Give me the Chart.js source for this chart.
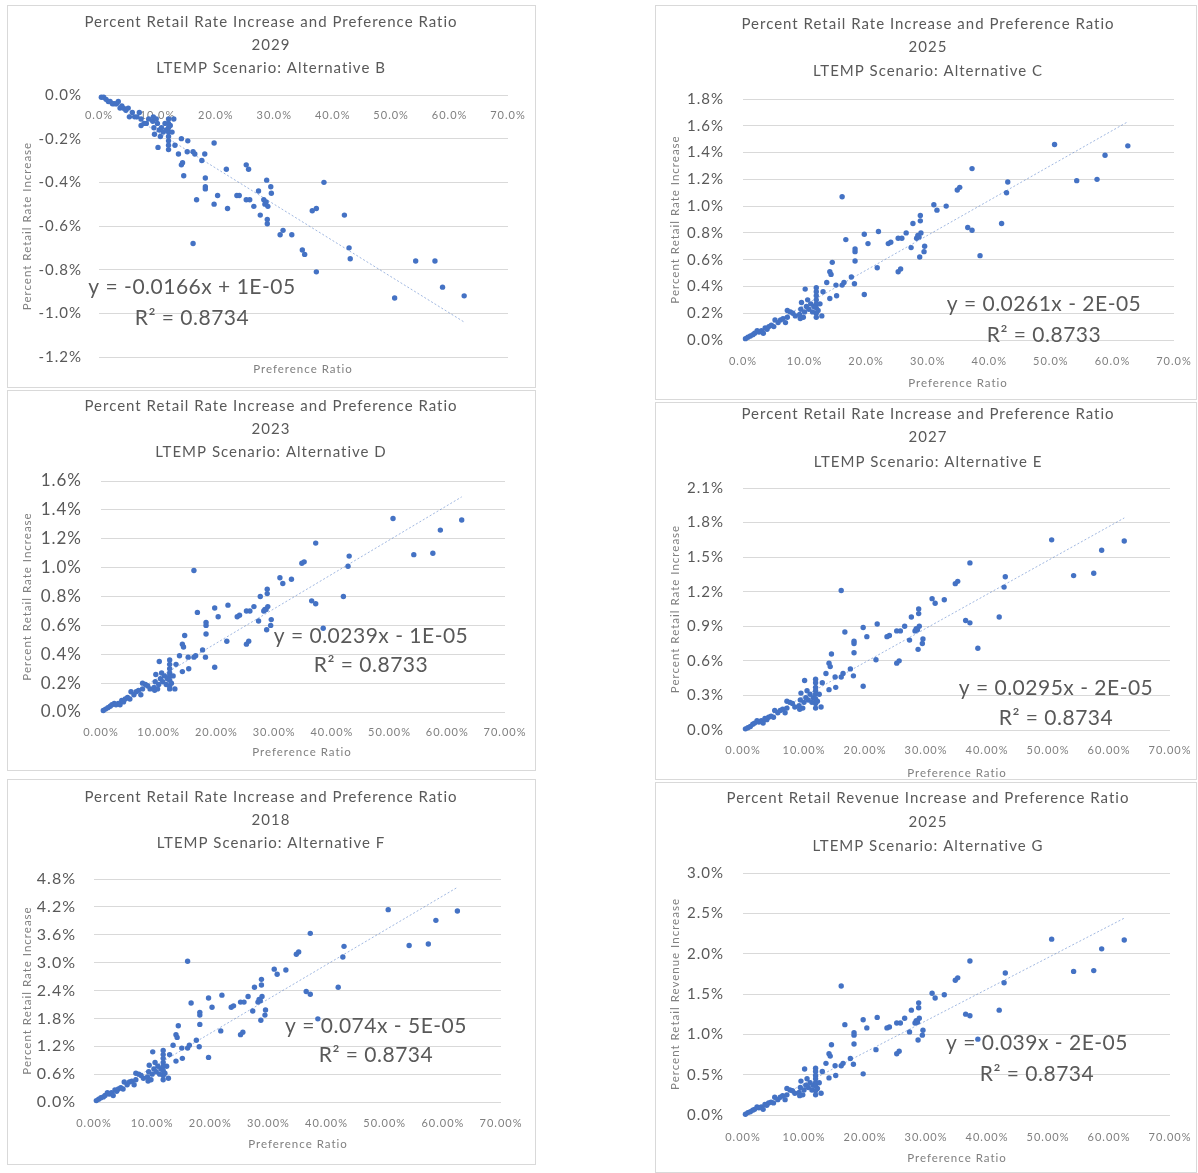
<!DOCTYPE html>
<html>
<head>
<meta charset="utf-8">
<script src="https://cdn.jsdelivr.net/npm/chart.js@4"></script>
<style>
  body { margin: 0; background: #fff; width: 1198px; height: 1173px; position: relative; overflow: hidden; }
  .panel { position: absolute; border: 1px solid #d9d9d9; box-sizing: border-box; }
  canvas { position: absolute; }
</style>
</head>
<body>
<div id="page"></div>
<script>
// Preference ratio (%) - same utilities in every scenario
const prefRatio = [
  0.4, 0.8, 1.2, 1.6, 1.9, 2.3, 2.6, 3.0, 3.3, 3.6,
  3.9, 4.2, 4.6, 5.0, 5.2, 5.7, 6.1, 6.5, 6.9, 7.2,
  7.2, 7.7, 8.1, 8.5, 9.2, 9.3, 9.4, 9.5, 9.8, 10.0,
  10.1, 10.3, 10.5, 10.7, 11.0, 11.3, 11.5, 11.9, 11.9, 11.9,
  11.9, 11.9, 11.9, 11.9, 11.9, 12.2, 12.5, 12.8, 13.0, 13.6,
  14.1, 14.3, 14.1, 14.5, 15.1, 15.2, 16.1, 16.1, 16.4, 16.7,
  17.6, 18.1, 18.2, 18.2, 18.2, 19.7, 19.7, 20.3, 21.8, 22.0,
  23.6, 24.0, 25.2, 25.8, 25.2, 25.6, 26.5, 27.3, 27.6, 28.2,
  28.4, 28.6, 28.8, 28.8, 28.9, 28.7, 29.4, 29.5, 31.0, 31.5,
  33.0, 34.8, 35.2, 36.5, 37.2, 37.2, 38.5, 42.0, 42.8, 43.0,
  50.6, 54.2, 57.5, 58.8, 62.5
];

// Percent retail rate increase (%), Alternative B, 2029
const rateAltB = [
  -0.01, -0.01, -0.02, -0.03, -0.03, -0.04, -0.04, -0.04, -0.03, -0.06,
  -0.05, -0.06, -0.07, -0.06, -0.10, -0.08, -0.10, -0.10, -0.08, -0.11,
  -0.14, -0.13, -0.13, -0.11, -0.12, -0.10, -0.15, -0.18, -0.11, -0.13,
  -0.24, -0.16, -0.19, -0.15, -0.17, -0.13, -0.16, -0.25, -0.23, -0.21,
  -0.19, -0.17, -0.15, -0.13, -0.11, -0.14, -0.17, -0.11, -0.23, -0.27,
  -0.32, -0.31, -0.20, -0.37, -0.26, -0.21, -0.26, -0.68, -0.27, -0.48,
  -0.30, -0.27, -0.38, -0.42, -0.43, -0.22, -0.50, -0.46, -0.34, -0.52,
  -0.46, -0.46, -0.48, -0.48, -0.32, -0.34, -0.51, -0.44, -0.55, -0.48,
  -0.50, -0.49, -0.59, -0.57, -0.51, -0.39, -0.42, -0.45, -0.64, -0.62,
  -0.64, -0.71, -0.73, -0.53, -0.52, -0.81, -0.40, -0.55, -0.70, -0.75,
  -0.93, -0.76, -0.76, -0.88, -0.92
];

// Alternative C, 2025
const rateAltC = [
  0.01, 0.02, 0.03, 0.04, 0.05, 0.07, 0.06, 0.07, 0.05, 0.09,
  0.08, 0.10, 0.11, 0.10, 0.15, 0.13, 0.15, 0.16, 0.13, 0.17,
  0.22, 0.21, 0.20, 0.18, 0.19, 0.16, 0.23, 0.28, 0.17, 0.21,
  0.38, 0.25, 0.30, 0.23, 0.27, 0.21, 0.25, 0.39, 0.36, 0.33,
  0.30, 0.27, 0.24, 0.20, 0.17, 0.22, 0.27, 0.18, 0.36, 0.43,
  0.51, 0.49, 0.31, 0.58, 0.41, 0.33, 0.41, 1.07, 0.43, 0.75,
  0.47, 0.42, 0.59, 0.66, 0.68, 0.34, 0.79, 0.72, 0.54, 0.81,
  0.72, 0.73, 0.76, 0.76, 0.51, 0.53, 0.80, 0.69, 0.87, 0.76,
  0.78, 0.77, 0.93, 0.89, 0.80, 0.62, 0.66, 0.70, 1.01, 0.97,
  1.00, 1.12, 1.14, 0.84, 0.82, 1.28, 0.63, 0.87, 1.10, 1.18,
  1.46, 1.19, 1.20, 1.38, 1.45
];

// Alternative D, 2023
const rateAltD = [
  0.01, 0.02, 0.03, 0.04, 0.05, 0.06, 0.05, 0.06, 0.05, 0.08,
  0.07, 0.09, 0.10, 0.09, 0.14, 0.12, 0.14, 0.15, 0.12, 0.16,
  0.20, 0.19, 0.18, 0.16, 0.17, 0.15, 0.21, 0.26, 0.16, 0.19,
  0.35, 0.23, 0.27, 0.21, 0.25, 0.19, 0.23, 0.36, 0.33, 0.30,
  0.27, 0.25, 0.22, 0.18, 0.16, 0.20, 0.25, 0.16, 0.33, 0.39,
  0.47, 0.45, 0.28, 0.53, 0.38, 0.30, 0.38, 0.98, 0.39, 0.69,
  0.43, 0.38, 0.54, 0.60, 0.62, 0.31, 0.72, 0.66, 0.49, 0.74,
  0.66, 0.67, 0.70, 0.70, 0.47, 0.49, 0.73, 0.63, 0.80, 0.70,
  0.71, 0.71, 0.85, 0.82, 0.73, 0.57, 0.60, 0.64, 0.93, 0.89,
  0.92, 1.03, 1.04, 0.77, 0.75, 1.17, 0.58, 0.80, 1.01, 1.08,
  1.34, 1.09, 1.10, 1.26, 1.33
];

// Alternative E, 2027
const rateAltE = [
  0.01, 0.02, 0.03, 0.05, 0.06, 0.08, 0.07, 0.08, 0.06, 0.10,
  0.09, 0.11, 0.12, 0.11, 0.17, 0.15, 0.17, 0.18, 0.15, 0.19,
  0.25, 0.24, 0.23, 0.20, 0.21, 0.18, 0.26, 0.32, 0.19, 0.24,
  0.43, 0.28, 0.34, 0.26, 0.31, 0.24, 0.28, 0.44, 0.41, 0.37,
  0.34, 0.31, 0.27, 0.23, 0.19, 0.25, 0.31, 0.20, 0.41, 0.49,
  0.58, 0.55, 0.35, 0.66, 0.46, 0.37, 0.46, 1.21, 0.49, 0.85,
  0.53, 0.47, 0.67, 0.75, 0.77, 0.38, 0.89, 0.81, 0.61, 0.92,
  0.81, 0.82, 0.86, 0.86, 0.58, 0.60, 0.90, 0.78, 0.98, 0.86,
  0.88, 0.87, 1.05, 1.01, 0.90, 0.70, 0.75, 0.79, 1.14, 1.10,
  1.13, 1.27, 1.29, 0.95, 0.93, 1.45, 0.71, 0.98, 1.24, 1.33,
  1.65, 1.34, 1.36, 1.56, 1.64
];

// Alternative F, 2018
const rateAltF = [
  0.03, 0.06, 0.09, 0.11, 0.14, 0.20, 0.17, 0.20, 0.14, 0.26,
  0.23, 0.28, 0.31, 0.28, 0.43, 0.37, 0.43, 0.45, 0.37, 0.48,
  0.62, 0.60, 0.57, 0.51, 0.54, 0.45, 0.65, 0.79, 0.48, 0.60,
  1.08, 0.71, 0.85, 0.65, 0.77, 0.60, 0.71, 1.11, 1.02, 0.94,
  0.85, 0.77, 0.68, 0.57, 0.48, 0.62, 0.77, 0.51, 1.02, 1.22,
  1.45, 1.39, 0.88, 1.64, 1.16, 0.94, 1.16, 3.03, 1.22, 2.13,
  1.33, 1.19, 1.67, 1.87, 1.93, 0.96, 2.24, 2.04, 1.53, 2.30,
  2.04, 2.07, 2.15, 2.15, 1.45, 1.50, 2.27, 1.96, 2.47, 2.15,
  2.21, 2.18, 2.64, 2.52, 2.27, 1.76, 1.87, 1.98, 2.86, 2.75,
  2.84, 3.18, 3.23, 2.38, 2.32, 3.63, 1.79, 2.47, 3.12, 3.35,
  4.14, 3.37, 3.40, 3.91, 4.11
];

// Percent retail revenue increase (%), Alternative G, 2025
const revenueAltG = [
  0.01, 0.03, 0.04, 0.06, 0.07, 0.10, 0.09, 0.10, 0.07, 0.13,
  0.12, 0.15, 0.16, 0.15, 0.22, 0.19, 0.22, 0.24, 0.19, 0.25,
  0.33, 0.31, 0.30, 0.27, 0.28, 0.24, 0.34, 0.42, 0.25, 0.31,
  0.57, 0.37, 0.45, 0.34, 0.40, 0.31, 0.37, 0.58, 0.54, 0.49,
  0.45, 0.40, 0.36, 0.30, 0.25, 0.33, 0.40, 0.27, 0.54, 0.64,
  0.76, 0.73, 0.46, 0.87, 0.61, 0.49, 0.61, 1.60, 0.64, 1.12,
  0.70, 0.63, 0.88, 0.99, 1.02, 0.51, 1.18, 1.08, 0.81, 1.21,
  1.08, 1.09, 1.14, 1.14, 0.76, 0.79, 1.20, 1.03, 1.30, 1.14,
  1.17, 1.15, 1.39, 1.33, 1.20, 0.93, 0.99, 1.05, 1.51, 1.45,
  1.49, 1.67, 1.70, 1.25, 1.23, 1.91, 0.94, 1.30, 1.64, 1.76,
  2.18, 1.78, 1.79, 2.06, 2.17
];

// linear trendline end points
const trendX = [0.4, 62.5];
const trendAltB = [-0.01, -1.04];
const trendAltC = [0.01, 1.63];
const trendAltD = [0.01, 1.49];
const trendAltE = [0.01, 1.84];
const trendAltF = [0.03, 4.62];
const trendAltG = [0.01, 2.44];

const FONT = 'Lato, "Open Sans", sans-serif';
const TITLE1 = 'Percent Retail Rate Increase and Preference Ratio';
const RATE_T = 'Percent Retail Rate Increase';

const panels = [
  { box: [7, 5, 529, 383], area: [92, 90, 501, 352], values: rateAltB, trend: trendAltB,
    title: [TITLE1, '2029', 'LTEMP Scenario: Alternative B'], titleX: 264, titleY: [17, 40, 63],
    yTitle: RATE_T, yMin: -1.2, yMax: 0, yStep: 0.2, xDec: 1, yFont: 15, yPad: 17, xPad: 6,
    xTitle: [296, 364], eq: ['y = -0.0166x + 1E-05', 'R\u00b2 = 0.8734'], eqPos: [185, 282, 313], xAtZero: true },
  { box: [655, 5, 542, 395], area: [88, 94, 519, 335], values: rateAltC, trend: trendAltC,
    title: [TITLE1, '2025', 'LTEMP Scenario: Alternative C'], titleX: 273, titleY: [19, 42, 66],
    yTitle: RATE_T, yMin: 0, yMax: 1.8, yStep: 0.2, xDec: 1, yFont: 15, yPad: 19, xPad: 7,
    xTitle: [303, 378], eq: ['y = 0.0261x - 2E-05', 'R\u00b2 = 0.8733'], eqPos: [389, 299, 330] },
  { box: [7, 390, 529, 381], area: [94, 91, 498, 322], values: rateAltD, trend: trendAltD,
    title: [TITLE1, '2023', 'LTEMP Scenario: Alternative D'], titleX: 264, titleY: [16, 39, 62],
    yTitle: RATE_T, yMin: 0, yMax: 1.6, yStep: 0.2, xDec: 2, yFont: 17, yPad: 19, xPad: 6,
    xTitle: [295, 362], eq: ['y = 0.0239x - 1E-05', 'R\u00b2 = 0.8733'], eqPos: [364, 246, 275] },
  { box: [655, 402, 542, 378], area: [88, 86, 515, 328], values: rateAltE, trend: trendAltE,
    title: [TITLE1, '2027', 'LTEMP Scenario: Alternative E'], titleX: 273, titleY: [12, 35, 60],
    yTitle: RATE_T, yMin: 0, yMax: 2.1, yStep: 0.3, xDec: 2, yFont: 15, yPad: 19, xPad: 6,
    xTitle: [302, 371], eq: ['y = 0.0295x - 2E-05', 'R\u00b2 = 0.8734'], eqPos: [401, 286, 316] },
  { box: [7, 779, 529, 386], area: [87, 100, 494, 323], values: rateAltF, trend: trendAltF,
    title: [TITLE1, '2018', 'LTEMP Scenario: Alternative F'], titleX: 264, titleY: [18, 41, 64],
    yTitle: RATE_T, yMin: 0, yMax: 4.8, yStep: 0.6, xDec: 2, yFont: 16, yPad: 18, xPad: 7,
    xTitle: [291, 365], eq: ['y = 0.074x - 5E-05', 'R\u00b2 = 0.8734'], eqPos: [369, 247, 276] },
  { box: [655, 782, 542, 391], area: [88, 91, 515, 333], values: revenueAltG, trend: trendAltG,
    title: ['Percent Retail Revenue Increase and Preference Ratio', '2025', 'LTEMP Scenario: Alternative G'], titleX: 273, titleY: [16, 40, 64],
    yTitle: 'Percent Retail Revenue Increase', yMin: 0, yMax: 3.0, yStep: 0.5, xDec: 2, yFont: 15, yPad: 19, xPad: 8,
    xTitle: [302, 376], eq: ['y = 0.039x - 2E-05', 'R\u00b2 = 0.8734'], eqPos: [382, 261, 292] }
];

// titles, x axis title and trendline equation
const panelText = {
  id: 'panelText',
  beforeDraw(chart) { chart.ctx.letterSpacing = '1px'; },
  afterDraw(chart, args, o) {
    const ctx = chart.ctx;
    ctx.save();
    ctx.textAlign = 'center';
    ctx.textBaseline = 'middle';
    ctx.fillStyle = '#595959';
    ctx.letterSpacing = '1px';
    ctx.font = '15px ' + FONT;
    o.title.forEach((t, i) => ctx.fillText(t, o.titleX, o.titleY[i]));
    ctx.fillStyle = '#7f7f7f';
    ctx.font = '11.5px ' + FONT;
    ctx.fillText('Preference Ratio', o.xTitle[0], o.xTitle[1]);
    ctx.fillStyle = '#595959';
    ctx.letterSpacing = '0.5px';
    ctx.font = '21px ' + FONT;
    ctx.fillText(o.eq[0], o.eqPos[0], o.eqPos[1]);
    ctx.fillText(o.eq[1], o.eqPos[0], o.eqPos[2]);
    ctx.restore();
  }
};

function pct(d) { return v => v.toFixed(d) + '%'; }

function build(p) {
  const [left, top, W, H] = p.box;
  const [l, t, r, b] = p.area;
  const page = document.getElementById('page');
  const frame = document.createElement('div');
  frame.className = 'panel';
  Object.assign(frame.style, { left: left + 'px', top: top + 'px', width: W + 'px', height: H + 'px' });
  page.appendChild(frame);
  const canvas = document.createElement('canvas');
  canvas.width = W; canvas.height = H;
  Object.assign(canvas.style, { left: left + 'px', top: top + 'px', width: W + 'px', height: H + 'px' });
  page.appendChild(canvas);

  const x = {
    type: 'linear', min: 0, max: 70,
    grid: { display: false }, border: { display: false },
    ticks: { stepSize: 10, callback: pct(p.xDec), color: '#7f7f7f', font: { family: FONT, size: 11 },
             padding: p.xPad, maxRotation: 0, minRotation: 0, autoSkip: false }
  };
  if (p.xAtZero) x.position = { y: 0 };
  else x.afterFit = s => { s.height = H - b; };

  new Chart(canvas, {
    type: 'scatter',
    data: {
      datasets: [
        { data: prefRatio.map((v, i) => ({ x: v, y: p.values[i] })),
          backgroundColor: '#4472c4', borderWidth: 0, pointRadius: 2.7, clip: false },
        { data: trendX.map((v, i) => ({ x: v, y: p.trend[i] })),
          showLine: true, pointRadius: 0, borderColor: 'rgba(68,114,196,0.5)', borderWidth: 1,
          borderDash: [2, 2], clip: false }
      ]
    },
    options: {
      responsive: false, animation: false, devicePixelRatio: 1, events: [],
      layout: { padding: { left: 0, top: t, right: W - r, bottom: p.xAtZero ? H - b : 0 } },
      scales: {
        x: x,
        y: {
          min: p.yMin, max: p.yMax,
          afterFit: s => { s.width = l; },
          grid: { color: '#d9d9d9', drawTicks: false }, border: { display: false },
          ticks: { stepSize: p.yStep, callback: pct(1), color: '#595959', font: { family: FONT, size: p.yFont }, padding: p.yPad },
          title: { display: true, text: p.yTitle, color: '#7f7f7f', font: { family: FONT, size: 11.5 }, padding: { top: 13, bottom: 0 } }
        }
      },
      plugins: { legend: { display: false }, tooltip: { enabled: false }, panelText: p }
    },
    plugins: [panelText]
  });
}

panels.forEach(build);
</script>
</body>
</html>
